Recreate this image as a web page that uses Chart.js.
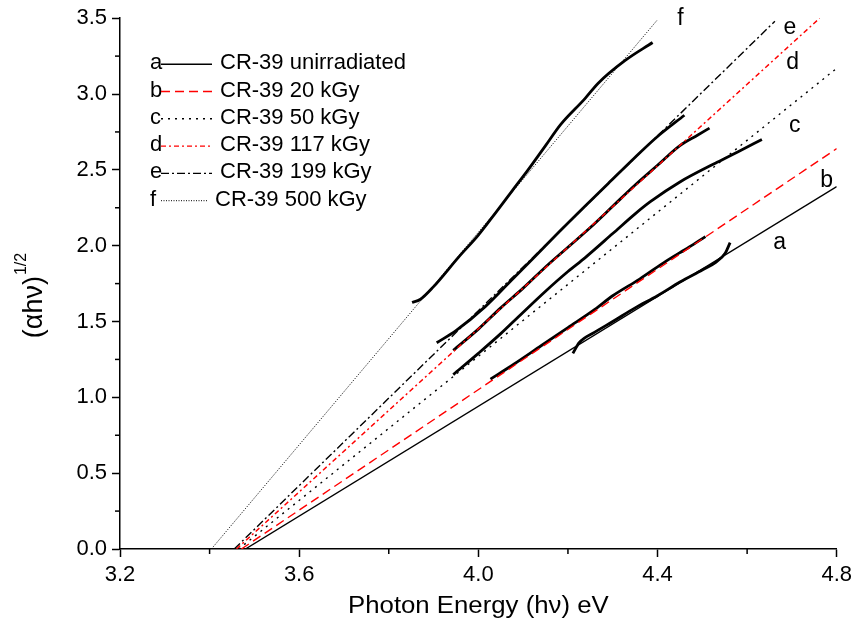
<!DOCTYPE html>
<html>
<head>
<meta charset="utf-8">
<script src="https://cdn.jsdelivr.net/npm/chart.js@4"></script>
<style>
  html, body { margin: 0; padding: 0; background: #fff; }
  canvas { display: block; }
</style>
</head>
<body>
<canvas id="tauc" width="857" height="626"></canvas>
<script>
// Tauc plot of CR-39: measured curves (thick) and their linear fits (thin)
var seriesKeys = ['a', 'b', 'c', 'd', 'e', 'f'];
var seriesNames = ['CR-39 unirradiated', 'CR-39 20 kGy', 'CR-39 50 kGy',
  'CR-39 117 kGy', 'CR-39 199 kGy', 'CR-39 500 kGy'];

// linear fits: from the x-intercept (band gap) to where they leave the plot
var fitAX = [3.48, 4.80],  fitAY = [0, 2.39];
var fitBX = [3.471, 4.80], fitBY = [0, 2.64];
var fitCX = [3.465, 4.80], fitCY = [0, 3.17];
var fitDX = [3.46, 4.762], fitDY = [0, 3.50];
var fitEX = [3.455, 4.662], fitEY = [0, 3.48];
var fitFX = [3.404, 4.40], fitFY = [0, 3.49];

// measured curves
var curveAX = [4.211, 4.225, 4.26, 4.30, 4.35, 4.40, 4.45, 4.50, 4.53, 4.551, 4.562];
var curveAY = [1.29, 1.36, 1.43, 1.50, 1.59, 1.67, 1.76, 1.84, 1.89, 1.95, 2.02];
var curveBX = [4.027, 4.08, 4.14, 4.20, 4.26, 4.30, 4.36, 4.42, 4.47, 4.507];
var curveBY = [1.12, 1.22, 1.34, 1.46, 1.58, 1.67, 1.78, 1.90, 1.99, 2.06];
var curveCX = [3.944, 4.00, 4.05, 4.089, 4.15, 4.20, 4.238, 4.30, 4.35, 4.384, 4.45, 4.533, 4.58, 4.633];
var curveCY = [1.15, 1.29, 1.42, 1.53, 1.70, 1.83, 1.92, 2.08, 2.21, 2.29, 2.42, 2.55, 2.62, 2.70];
var curveDX = [3.944, 4.00, 4.05, 4.10, 4.15, 4.20, 4.25, 4.30, 4.35, 4.40, 4.45, 4.49, 4.516];
var curveDY = [1.31, 1.45, 1.59, 1.72, 1.86, 1.99, 2.12, 2.26, 2.40, 2.53, 2.66, 2.73, 2.775];
var curveEX = [3.907, 3.95, 4.016, 4.07, 4.127, 4.18, 4.238, 4.29, 4.349, 4.40, 4.46];
var curveEY = [1.36, 1.44, 1.60, 1.76, 1.93, 2.09, 2.26, 2.41, 2.58, 2.72, 2.86];
var curveFX = [3.852, 3.87, 3.90, 3.956, 4.00, 4.038, 4.075, 4.111, 4.15, 4.184, 4.238, 4.267, 4.327, 4.389];
var curveFY = [1.625, 1.645, 1.73, 1.925, 2.07, 2.215, 2.36, 2.50, 2.66, 2.80, 2.97, 3.07, 3.22, 3.34];

var xTickLabels = ['3.2', '3.6', '4.0', '4.4', '4.8'];
var yTickLabels = ['0.0', '0.5', '1.0', '1.5', '2.0', '2.5', '3.0', '3.5'];
var xTitle = 'Photon Energy (h\u03bd) eV';
var yTitle = '(\u03b1h\u03bd)';
var yTitleSup = '1/2';

var FONT = '"Liberation Sans", Arial, sans-serif';

var fitStyles = {
  a: { color: '#000000', dash: [], width: 1.4 },
  b: { color: '#ff0000', dash: [9, 5], width: 1.4 },
  c: { color: '#000000', dash: [2, 5], width: 1.4 },
  d: { color: '#ff0000', dash: [5, 3, 2, 3], width: 1.4 },
  e: { color: '#000000', dash: [8, 3, 2, 3], width: 1.4 },
  f: { color: '#000000', dash: [1, 1.5], width: 1 }
};

// where the a..f tags sit, relative to the end of each fit line (px)
var tagOffsets = {
  a: [-57, 56], b: [-10, 32], c: [-42, 57], d: [-27, 44], e: [15, 6], f: [23, -1]
};

function pts(xs, ys) {
  return xs.map(function (x, i) { return { x: x, y: ys[i] }; });
}

var fitData = { a: pts(fitAX, fitAY), b: pts(fitBX, fitBY), c: pts(fitCX, fitCY),
  d: pts(fitDX, fitDY), e: pts(fitEX, fitEY), f: pts(fitFX, fitFY) };
var curveData = [pts(curveAX, curveAY), pts(curveBX, curveBY), pts(curveCX, curveCY),
  pts(curveDX, curveDY), pts(curveEX, curveEY), pts(curveFX, curveFY)];

var datasets = [];
seriesKeys.forEach(function (k, i) {
  var st = fitStyles[k];
  datasets.push({
    label: seriesNames[i],
    tag: k,
    isFit: true,
    data: fitData[k],
    showLine: true,
    borderColor: st.color,
    borderDash: st.dash,
    borderWidth: st.width,
    pointRadius: 0,
    order: 1
  });
});
curveData.forEach(function (d, i) {
  datasets.push({
    label: 'data ' + seriesKeys[i],
    data: d,
    showLine: true,
    borderColor: '#000000',
    borderWidth: 2.8,
    pointRadius: 0,
    cubicInterpolationMode: 'monotone',
    order: 2
  });
});

function isMultiple(v, step) {
  return Math.abs(Math.round(v / step) * step - v) < 1e-6;
}

// minor ticks, the fit legend, the a..f tags and both axis titles
var decorations = {
  id: 'decorations',
  afterDraw: function (chart) {
    var ctx = chart.ctx;
    var xs = chart.scales.x, ys = chart.scales.y;
    var area = chart.chartArea;
    ctx.save();
    ctx.strokeStyle = '#000';
    ctx.lineWidth = 1.5;
    xs.ticks.forEach(function (t) {
      if (isMultiple(t.value, 0.4)) return;
      var px = xs.getPixelForValue(t.value);
      ctx.beginPath(); ctx.moveTo(px, area.bottom); ctx.lineTo(px, area.bottom + 5); ctx.stroke();
    });
    ys.ticks.forEach(function (t) {
      if (isMultiple(t.value, 0.5)) return;
      var py = ys.getPixelForValue(t.value);
      ctx.beginPath(); ctx.moveTo(area.left, py); ctx.lineTo(area.left - 5, py); ctx.stroke();
    });

    // legend of fit lines
    ctx.textBaseline = 'middle';
    ctx.fillStyle = '#000';
    chart.data.datasets.forEach(function (ds, i) {
      if (!ds.isFit) return;
      var y = area.top + 45 + i * 27.3;
      var lx = area.left + 30;
      ctx.font = '22px ' + FONT;
      ctx.textAlign = 'left';
      ctx.fillText(ds.tag, lx, y);
      var l0 = lx + 11, l1 = ds.tag === 'f' ? lx + 57 : lx + 62;
      ctx.save();
      ctx.strokeStyle = ds.borderColor;
      ctx.lineWidth = ds.borderWidth;
      ctx.setLineDash(ds.borderDash);
      ctx.beginPath(); ctx.moveTo(l0, y + 1); ctx.lineTo(l1, y + 1); ctx.stroke();
      ctx.restore();
      ctx.fillText(ds.label, l1 + 8, y);

      // tag near the end of the fit line
      var end = ds.data[ds.data.length - 1];
      var off = tagOffsets[ds.tag];
      ctx.font = '23px ' + FONT;
      ctx.textAlign = 'center';
      ctx.fillText(ds.tag, xs.getPixelForValue(end.x) + off[0], ys.getPixelForValue(end.y) + off[1]);
    });

    // x axis title (the source font runs a little wide)
    ctx.save();
    ctx.translate((area.left + area.right) / 2, area.bottom + 58);
    ctx.scale(1.12, 1);
    ctx.font = '23px ' + FONT;
    ctx.textAlign = 'center';
    ctx.fillText(xTitle, 0, 0);
    ctx.restore();

    // y axis title with superscript
    ctx.translate(35, 296);
    ctx.rotate(-Math.PI / 2);
    ctx.font = '27px ' + FONT;
    var w1 = ctx.measureText(yTitle).width;
    ctx.font = '16px ' + FONT;
    var w2 = ctx.measureText(yTitleSup).width;
    ctx.textAlign = 'left';
    ctx.font = '27px ' + FONT;
    ctx.fillText(yTitle, -(w1 + w2) / 2, 0);
    ctx.font = '16px ' + FONT;
    ctx.fillText(yTitleSup, -(w1 + w2) / 2 + w1 + 1, -13);
    ctx.restore();
  }
};

new Chart(document.getElementById('tauc'), {
  type: 'scatter',
  data: { datasets: datasets },
  options: {
    responsive: false,
    animation: false,
    layout: { padding: { top: 17, right: 19, left: 0, bottom: 0 } },
    plugins: { legend: { display: false }, tooltip: { enabled: false } },
    scales: {
      x: {
        type: 'linear',
        min: 3.2, max: 4.8,
        afterFit: function (s) { s.height = 77; },
        grid: {
          drawOnChartArea: false, drawTicks: true, tickLength: 8, tickWidth: 1.5,
          tickColor: function (c) { return isMultiple(c.tick.value, 0.4) ? '#000' : 'rgba(0,0,0,0)'; }
        },
        border: { display: true, color: '#000', width: 1.5 },
        ticks: {
          stepSize: 0.2, autoSkip: false, maxRotation: 0, padding: 5, color: '#000',
          font: { family: FONT, size: 22 },
          callback: function (v) {
            var i = Math.round((v - 3.2) / 0.4);
            return isMultiple(v, 0.4) ? xTickLabels[i] : '';
          }
        }
      },
      y: {
        min: 0, max: 3.5,
        afterFit: function (s) { s.width = 120; },
        grid: {
          drawOnChartArea: false, drawTicks: true, tickLength: 8, tickWidth: 1.5,
          tickColor: function (c) { return isMultiple(c.tick.value, 0.5) ? '#000' : 'rgba(0,0,0,0)'; }
        },
        border: { display: true, color: '#000', width: 1.5 },
        ticks: {
          stepSize: 0.25, autoSkip: false, padding: 5, color: '#000',
          font: { family: FONT, size: 22 },
          callback: function (v) {
            var i = Math.round(v / 0.5);
            return isMultiple(v, 0.5) ? yTickLabels[i] : '';
          }
        }
      }
    }
  },
  plugins: [decorations]
});
</script>
</body>
</html>
